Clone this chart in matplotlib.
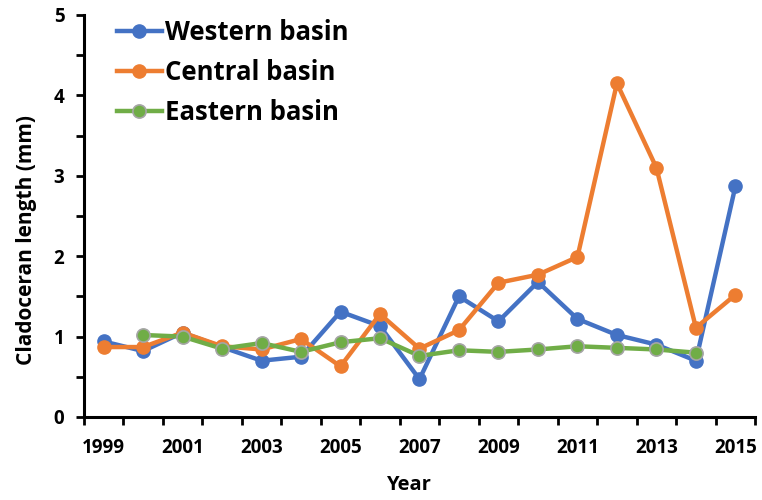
import matplotlib
matplotlib.use('Agg')
import matplotlib.pyplot as plt
from matplotlib.ticker import MultipleLocator, FixedLocator

plt.rcParams['font.family'] = ['Open Sans', 'DejaVu Sans']
plt.rcParams['font.weight'] = 'bold'

# Data
years = list(range(1999, 2016))
western = [0.94, 0.82, 1.05, 0.87, 0.70, 0.75, 1.31, 1.13, 0.47, 1.50,
           1.19, 1.68, 1.22, 1.02, 0.90, 0.70, 2.87]
central = [0.87, 0.87, 1.05, 0.88, 0.84, 0.97, 0.63, 1.28, 0.85, 1.08,
           1.67, 1.77, 1.99, 4.15, 3.10, 1.11, 1.52]
eastern_years = list(range(2000, 2015))
eastern = [1.02, 1.00, 0.85, 0.92, 0.81, 0.93, 0.98, 0.76, 0.83, 0.81,
           0.84, 0.88, 0.86, 0.84, 0.80]
label_years = [1999, 2001, 2003, 2005, 2007, 2009, 2011, 2013, 2015]

fig = plt.figure(figsize=(7.62, 5), dpi=100)
ax = fig.add_axes([0.110, 0.166, 0.881, 0.804])

ax.plot(years, western, color='#4472C4', lw=3.2, marker='o', ms=9.5,
        label='Western basin')
ax.plot(years, central, color='#ED7D31', lw=3.2, marker='o', ms=9.5,
        label='Central basin')
ax.plot(eastern_years, eastern, color='#70AD47', lw=3.2, marker='o', ms=9.5,
        mec='#A5A5A5', mew=1.2, label='Eastern basin')

ax.set_xlim(1998.5, 2015.5)
ax.set_ylim(0, 5)

ax.xaxis.set_major_locator(FixedLocator(label_years))
ax.xaxis.set_minor_locator(MultipleLocator(1, offset=0.5))
ax.tick_params(axis='x', which='major', length=0, pad=15, labelsize=13.5)
ax.tick_params(axis='x', which='minor', length=6, width=2, direction='out')

ax.yaxis.set_major_locator(MultipleLocator(1))
ax.yaxis.set_minor_locator(MultipleLocator(0.5))
ax.tick_params(axis='y', which='major', length=6, width=2, labelsize=13.5, pad=8)
ax.tick_params(axis='y', which='minor', length=6, width=2)

for s in ['top', 'right']:
    ax.spines[s].set_visible(False)
for s in ['left', 'bottom']:
    ax.spines[s].set_linewidth(2.2)

ax.set_xlabel('Year', fontsize=14.5, fontweight='bold')
ax.xaxis.set_label_coords(0.483, -0.145)
ax.set_ylabel('Cladoceran length (mm)', fontsize=15, fontweight='bold')
ax.yaxis.set_label_coords(-0.07, 0.44)

leg = ax.legend(loc='upper left', bbox_to_anchor=(0.015, 1.047), frameon=False,
                fontsize=18.5, handlelength=1.75, handletextpad=0.12,
                labelspacing=0.5)
for t in leg.get_texts():
    t.set_fontweight('bold')

fig.savefig('out.png', dpi=100)
